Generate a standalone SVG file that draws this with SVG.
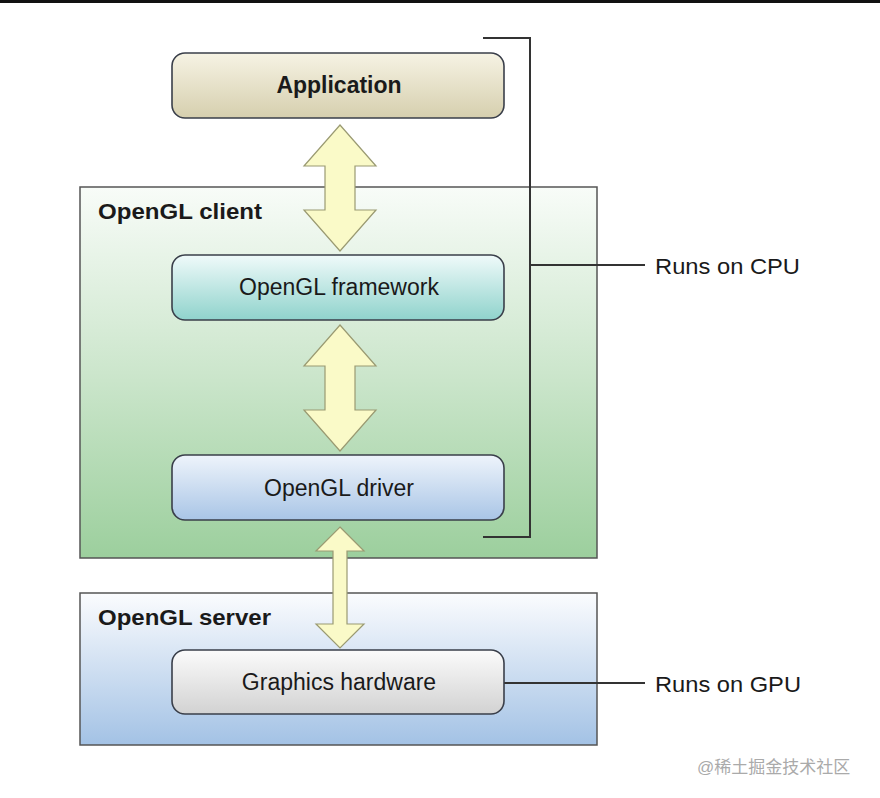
<svg xmlns="http://www.w3.org/2000/svg" width="880" height="798" viewBox="0 0 880 798">
<style>
text{font-family:"Liberation Sans",Arial,sans-serif;fill:#1a1a1a}
.node{stroke:#3a3f4a;stroke-width:1.6}
.area{stroke:#555;stroke-width:1.5}
.arr{fill:#fafac8;stroke:#9a9a72;stroke-width:1.2}
.ln{stroke:#333;stroke-width:2;fill:none}
.lbl{font-size:23px;text-anchor:middle}
</style>
<defs>
<linearGradient id="gApp" x1="0" y1="0" x2="0" y2="1"><stop offset="0" stop-color="#f6f3e4"/><stop offset="1" stop-color="#d6cfae"/></linearGradient>
<linearGradient id="gFw" x1="0" y1="0" x2="0" y2="1"><stop offset="0" stop-color="#f0fafa"/><stop offset="1" stop-color="#8fd3cc"/></linearGradient>
<linearGradient id="gDrv" x1="0" y1="0" x2="0" y2="1"><stop offset="0" stop-color="#eef4fb"/><stop offset="1" stop-color="#a9c5e6"/></linearGradient>
<linearGradient id="gHw" x1="0" y1="0" x2="0" y2="1"><stop offset="0" stop-color="#fbfbfb"/><stop offset="1" stop-color="#d2d2d2"/></linearGradient>
<linearGradient id="gCl" x1="0" y1="0" x2="0" y2="1"><stop offset="0" stop-color="#f8fcf8"/><stop offset="0.5" stop-color="#cce6cc"/><stop offset="1" stop-color="#9ccf9d"/></linearGradient>
<linearGradient id="gSv" x1="0" y1="0" x2="0" y2="1"><stop offset="0" stop-color="#fbfcfe"/><stop offset="1" stop-color="#a3c2e5"/></linearGradient>
</defs>
<rect x="0" y="0" width="880" height="798" fill="#fff"/>
<rect x="0" y="0" width="880" height="3" fill="#111"/>
<g id="client"><rect class="area" x="80" y="187" width="517" height="371" fill="url(#gCl)"/><text x="98" y="219" font-size="22" font-weight="bold" textLength="164" lengthAdjust="spacingAndGlyphs">OpenGL client</text></g>
<g id="server"><rect class="area" x="80" y="593" width="517" height="152" fill="url(#gSv)"/><text x="98" y="625" font-size="22" font-weight="bold" textLength="173" lengthAdjust="spacingAndGlyphs">OpenGL server</text></g>
<g id="connectors">
<path class="arr" d="M340,125 L376,166 L355,166 L355,210 L376,210 L340,251 L304,210 L325,210 L325,166 L304,166 Z"/>
<path class="arr" d="M340,325 L376,366 L355,366 L355,410 L376,410 L340,451 L304,410 L325,410 L325,366 L304,366 Z"/>
<path class="arr" d="M340,527 L364,551 L347,551 L347,624 L364,624 L340,648 L316,624 L333,624 L333,551 L316,551 Z"/>
<path class="ln" d="M483,38 H530 V537 H483"/>
<path class="ln" d="M530,265 H645"/>
<path class="ln" d="M497,683 H645"/>
</g>
<g id="app"><rect class="node" x="172" y="53" width="332" height="65" rx="13" fill="url(#gApp)"/><text class="lbl" x="339" y="93" font-weight="bold">Application</text></g>
<g id="framework"><rect class="node" x="172" y="255" width="332" height="65" rx="13" fill="url(#gFw)"/><text class="lbl" x="339" y="295">OpenGL framework</text></g>
<g id="driver"><rect class="node" x="172" y="455" width="332" height="65" rx="13" fill="url(#gDrv)"/><text class="lbl" x="339" y="496">OpenGL driver</text></g>
<g id="hardware"><rect class="node" x="172" y="650" width="332" height="64" rx="13" fill="url(#gHw)"/><text class="lbl" x="339" y="690">Graphics hardware</text></g>
<text x="655" y="274" font-size="22" textLength="145" lengthAdjust="spacingAndGlyphs">Runs on CPU</text>
<text x="655" y="692" font-size="22" textLength="146" lengthAdjust="spacingAndGlyphs">Runs on GPU</text>
<text x="697" y="773" font-size="17" style="fill:#aaa;font-family:'Liberation Sans','Noto Sans CJK SC',sans-serif">@稀土掘金技术社区</text>
</svg>
